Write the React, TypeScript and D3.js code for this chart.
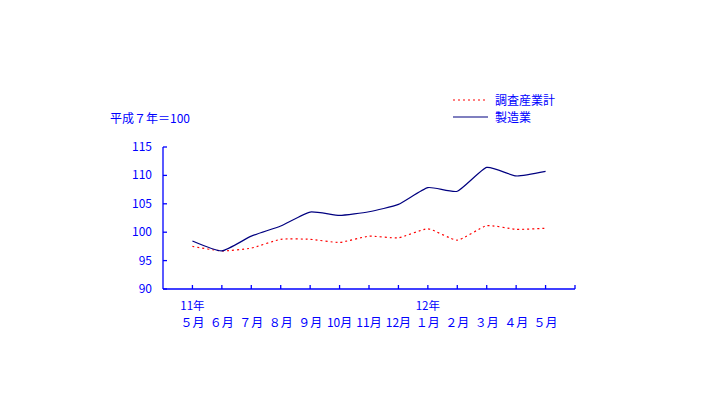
import React from "react";
import * as d3 from "d3";

const months = ["５月", "６月", "７月", "８月", "９月", "10月", "11月", "12月", "１月", "２月", "３月", "４月", "５月"];
const yearLabels = [
  { index: 0, label: "11年" },
  { index: 8, label: "12年" },
];
const allIndustries = [97.5, 96.7, 97.2, 98.75, 98.75, 98.2, 99.3, 99.0, 100.6, 98.6, 101.15, 100.5, 100.7];
const manufacturing = [98.45, 96.7, 99.3, 101.1, 103.55, 102.95, 103.6, 104.9, 107.85, 107.2, 111.4, 109.9, 110.7];
const yTicks = [90, 95, 100, 105, 110, 115];
const seriesNames = ["調査産業計", "製造業"];
const unitLabel = "平成７年＝100";

const BLUE = "#0000ff";
const NAVY = "#000080";
const RED = "#ff0000";
const FONT = "'Noto Sans CJK JP', 'Noto Sans', sans-serif";

export default function App() {
  const x = d3.scaleLinear().domain([-1, 13]).range([163, 575]);
  const y = d3.scaleLinear().domain([90, 115]).range([289, 147]);
  const line = d3
    .line<number>()
    .x((_, i) => x(i))
    .y((d) => y(d))
    .curve(d3.curveCardinal.tension(0.5));
  const xTickIdx = d3.range(0, 14);

  return (
    <svg
      width={717}
      height={395}
      style={{ position: "absolute", left: 0, top: 0, background: "#fff" }}
      fontFamily={FONT}
      fontSize={12}
    >
      <rect width={717} height={395} fill="#fff" />
      {/* unit label */}
      <text x={110} y={123} fill={BLUE}>{unitLabel}</text>

      {/* legend */}
      <line x1={453} x2={488} y1={100} y2={100} stroke={RED} strokeWidth={1.2} strokeDasharray="2,3" />
      <text x={495} y={104.5} fill={BLUE}>{seriesNames[0]}</text>
      <line x1={453} x2={488} y1={117} y2={117} stroke={NAVY} strokeWidth={1.2} />
      <text x={495} y={121.5} fill={BLUE}>{seriesNames[1]}</text>

      {/* y axis */}
      <line x1={x(-1)} x2={x(-1)} y1={y(115)} y2={y(90)} stroke={BLUE} strokeWidth={1.3} />
      {yTicks.map((t) => (
        <g key={t}>
          <line x1={x(-1)} x2={x(-1) + 4} y1={y(t)} y2={y(t)} stroke={BLUE} strokeWidth={1.3} />
          <text x={152} y={y(t) + 4} textAnchor="end" fill={BLUE}>{t}</text>
        </g>
      ))}

      {/* x axis */}
      <line x1={x(-1)} x2={x(13)} y1={y(90)} y2={y(90)} stroke={BLUE} strokeWidth={1.3} />
      {xTickIdx.map((i) => (
        <line key={i} x1={x(i)} x2={x(i)} y1={y(90)} y2={y(90) - 4} stroke={BLUE} strokeWidth={1.3} />
      ))}
      {months.map((m, i) => (
        <text key={i} x={x(i)} y={326.5} textAnchor="middle" fill={BLUE}>{m}</text>
      ))}
      {yearLabels.map((yl) => (
        <text key={yl.label} x={x(yl.index)} y={310} textAnchor="middle" fill={BLUE} fontSize={11.5}>{yl.label}</text>
      ))}

      {/* series */}
      <path d={line(allIndustries) || ""} fill="none" stroke={RED} strokeWidth={1.2} strokeDasharray="2,3" />
      <path d={line(manufacturing) || ""} fill="none" stroke={NAVY} strokeWidth={1.2} />
    </svg>
  );
}
